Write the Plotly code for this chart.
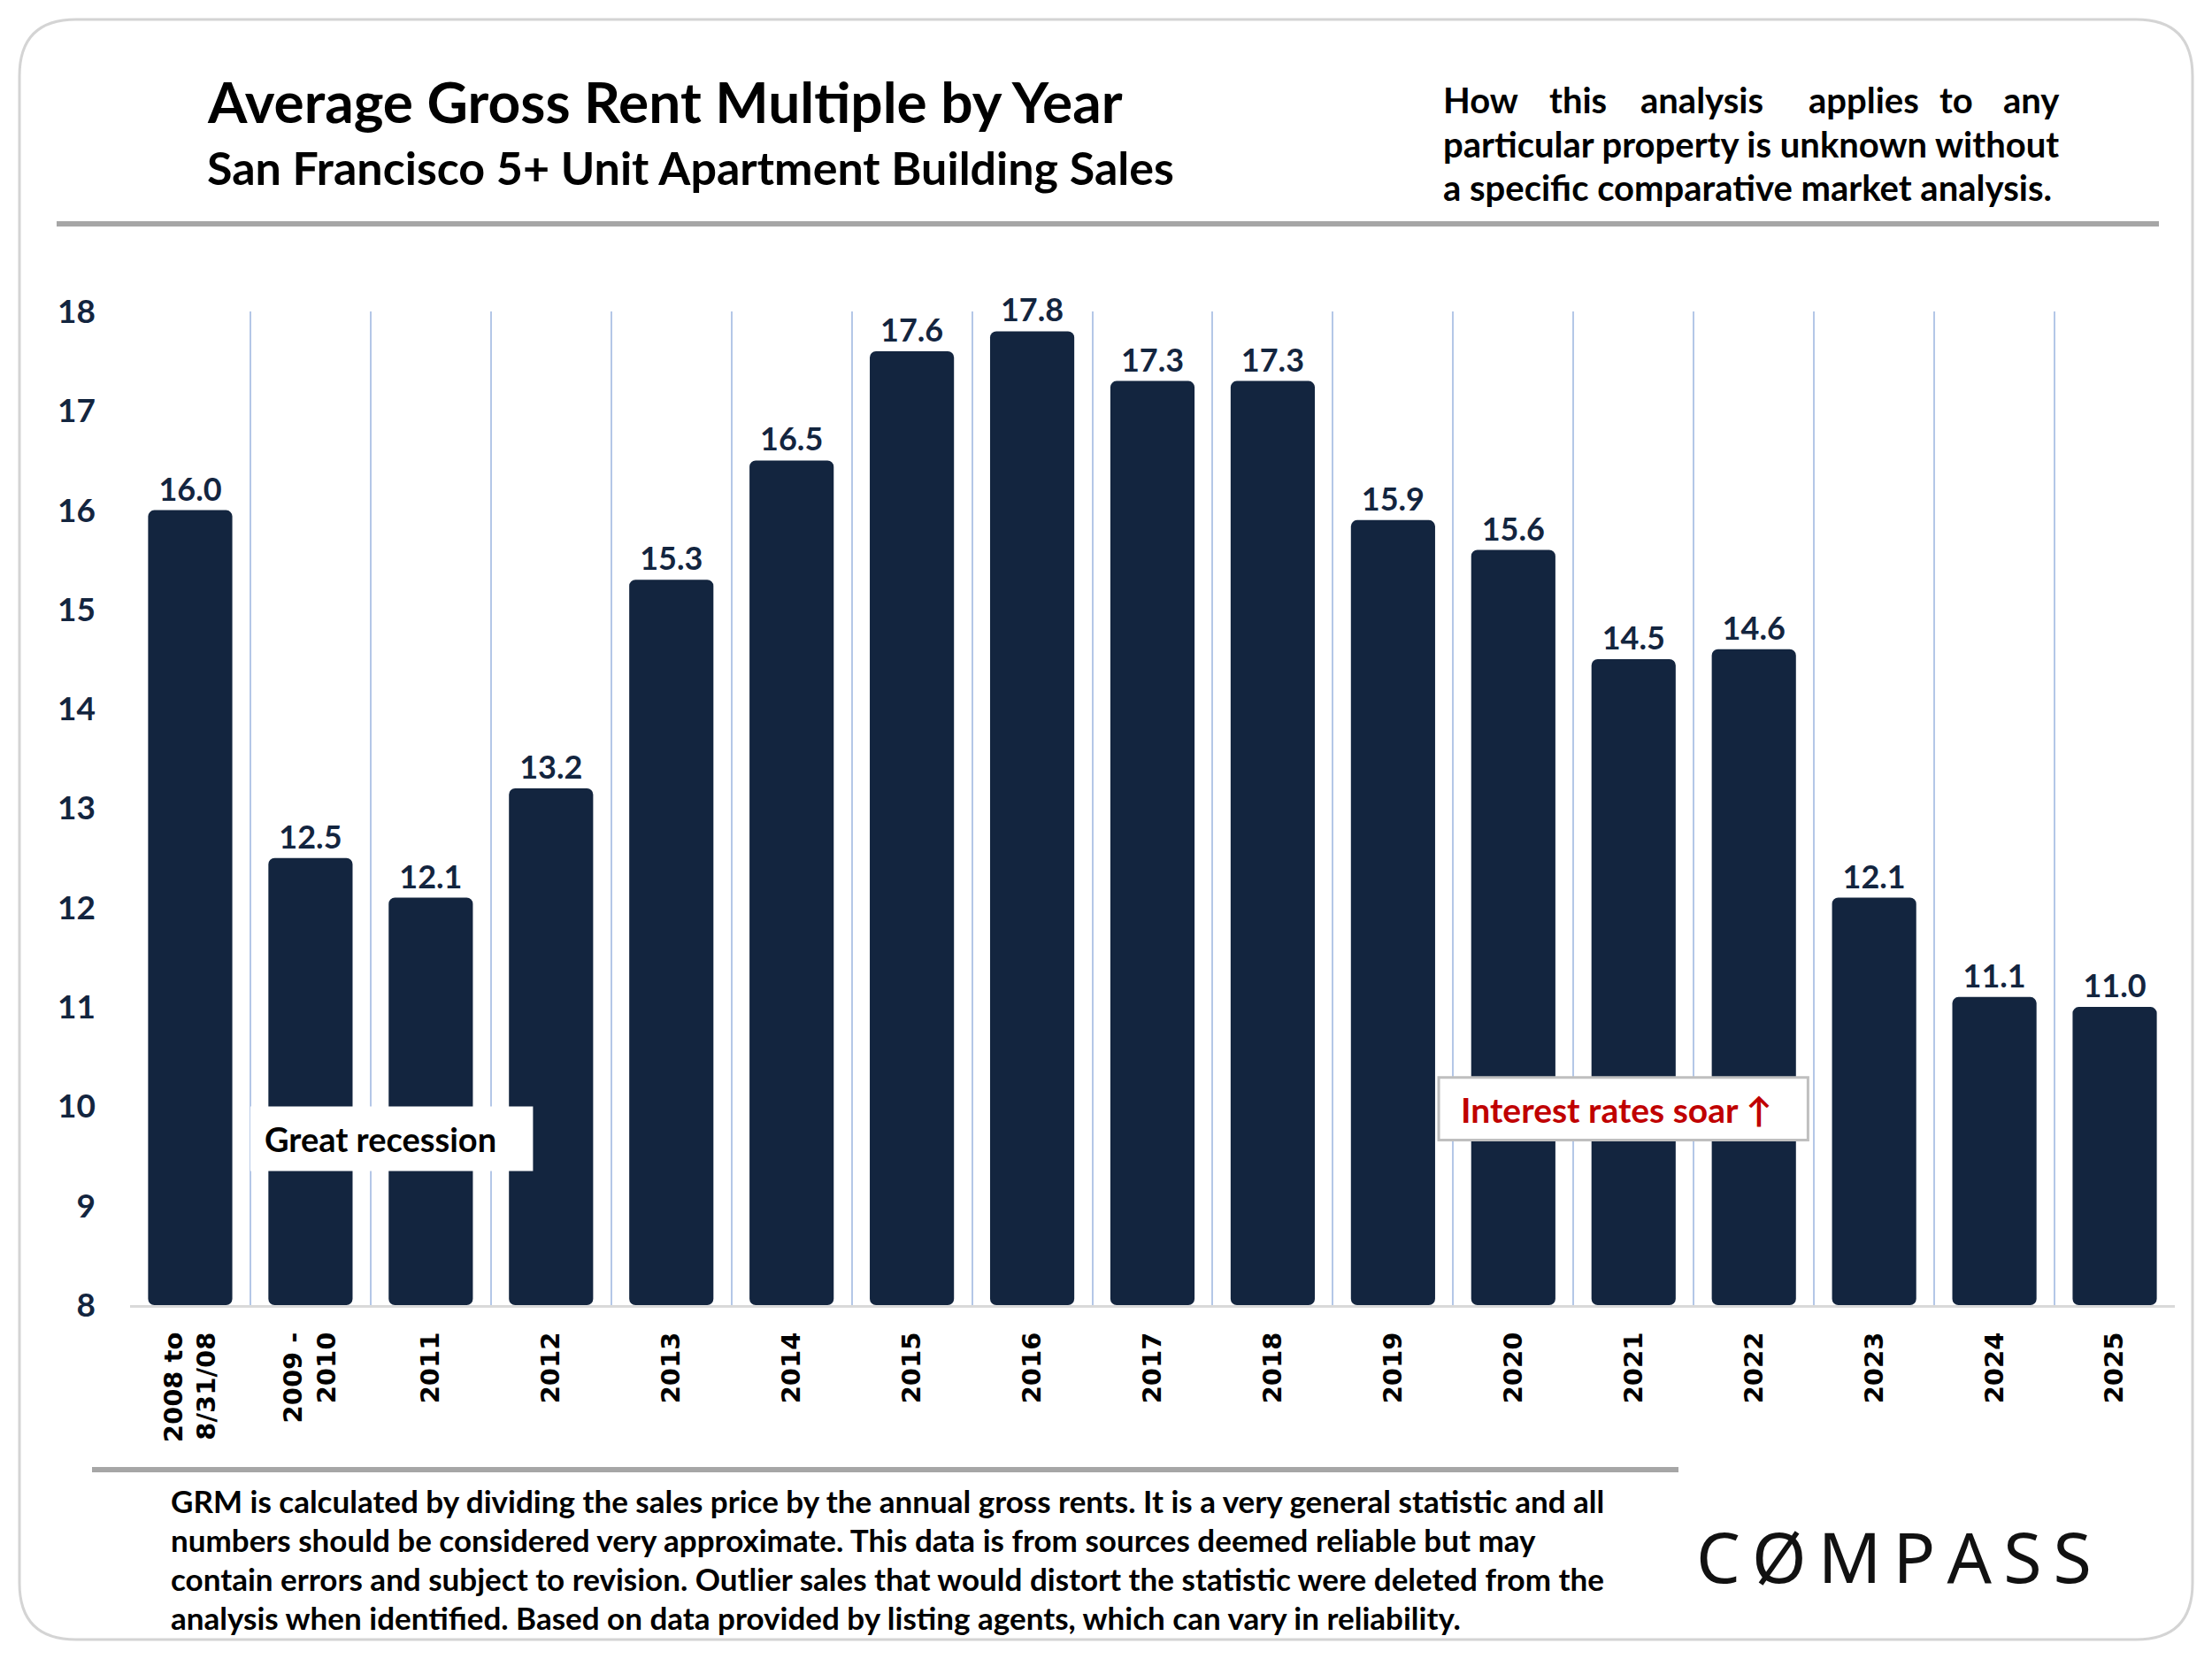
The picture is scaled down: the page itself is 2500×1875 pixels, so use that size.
import plotly.graph_objects as go

# ---------------- data ----------------
categories = ["2008 to<br>8/31/08", "2009 -<br>2010", "2011", "2012", "2013", "2014",
              "2015", "2016", "2017", "2018", "2019", "2020", "2021", "2022",
              "2023", "2024", "2025"]
grm_values = [16.0, 12.5, 12.1, 13.2, 15.3, 16.5, 17.6, 17.8, 17.3, 17.3,
              15.9, 15.6, 14.5, 14.6, 12.1, 11.1, 11.0]
y_tick_values = [8, 9, 10, 11, 12, 13, 14, 15, 16, 17, 18]
axis_floor = 8

title_text = "Average Gross Rent Multiple by Year"
subtitle_text = "San Francisco 5+ Unit Apartment Building Sales"
note_line1_words = ["How", "this", "analysis", "applies", "to", "any"]
note_lines = ["particular property is unknown without",
              "a specific comparative market analysis."]
footer_lines = [
    "GRM is calculated by dividing the sales price by the annual gross rents. It is a very general statistic and all",
    "numbers should be considered very approximate. This data is from sources deemed reliable but may",
    "contain errors and subject to revision. Outlier sales that would distort the statistic were deleted from the",
    "analysis when identified. Based on data provided by listing agents, which can vary in reliability.",
]
note_recession = "Great recession"
note_rates = "Interest rates soar ↑"

# ---------------- layout geometry (pixels) ----------------
FW, FH = 2500, 1875
L, R, T, B = 147, 2458, 352, 1475
W, H = R - L, B - T


def X(px):
    return (px - L) / W


def Y(py):
    return (B - py) / H


NAVY = "#13253F"
FONT = "Lato"

fig = go.Figure()
fig.add_trace(go.Bar(
    x=categories,
    y=[v - axis_floor for v in grm_values],
    base=axis_floor,
    text=[f"{v:.1f}" for v in grm_values],
    textposition="outside",
    textfont=dict(family=FONT, size=36, color=NAVY, weight="bold"),
    marker=dict(color=NAVY, line=dict(width=0)),
    cliponaxis=False,
    hoverinfo="skip",
))

shapes = []
annotations = []

# outer rounded border
r = 64
x0, y0, x1, y1 = 22, 22, 2478, 1853
path = (f"M {X(x0 + r)},{Y(y0)} L {X(x1 - r)},{Y(y0)} Q {X(x1)},{Y(y0)} {X(x1)},{Y(y0 + r)} "
        f"L {X(x1)},{Y(y1 - r)} Q {X(x1)},{Y(y1)} {X(x1 - r)},{Y(y1)} "
        f"L {X(x0 + r)},{Y(y1)} Q {X(x0)},{Y(y1)} {X(x0)},{Y(y1 - r)} "
        f"L {X(x0)},{Y(y0 + r)} Q {X(x0)},{Y(y0)} {X(x0 + r)},{Y(y0)} Z")
shapes.append(dict(type="path", path=path, xref="paper", yref="paper",
                   line=dict(color="#D4D4D4", width=3), fillcolor="rgba(0,0,0,0)",
                   layer="below"))

# header and footer rules
shapes.append(dict(type="line", xref="paper", yref="paper",
                   x0=X(64), x1=X(2440), y0=Y(253), y1=Y(253),
                   line=dict(color="#A6A6A6", width=6)))
shapes.append(dict(type="line", xref="paper", yref="paper",
                   x0=X(104), x1=X(1897), y0=Y(1661), y1=Y(1661),
                   line=dict(color="#A6A6A6", width=6)))

# annotation boxes (data coordinates)
shapes.append(dict(type="rect", xref="x", yref="y", x0=0.5, x1=2.85, y0=9.35, y1=10.0,
                   fillcolor="white", line=dict(width=0), layer="above"))
shapes.append(dict(type="rect", xref="x", yref="y", x0=10.38, x1=13.45, y0=9.66, y1=10.29,
                   fillcolor="white", line=dict(color="#BFBFBF", width=3), layer="above"))

annotations.append(dict(text=f"<b>{note_recession}</b>", xref="x", yref="y",
                        x=0.6, y=9.67, xanchor="left", yanchor="middle", showarrow=False,
                        font=dict(family=FONT, size=38, color="black")))
annotations.append(dict(text=f"<b>{note_rates}</b>", xref="x", yref="y",
                        x=10.55, y=9.97, xanchor="left", yanchor="middle", showarrow=False,
                        font=dict(family=FONT, size=39, color="#C00000")))

# titles
annotations.append(dict(text=f"<b>{title_text}</b>", xref="paper", yref="paper",
                        x=X(232), y=Y(115), xanchor="left", yanchor="middle", showarrow=False,
                        font=dict(family=FONT, size=64, color="black")))
annotations.append(dict(text=f"<b>{subtitle_text}</b>", xref="paper", yref="paper",
                        x=X(232), y=Y(189), xanchor="left", yanchor="middle", showarrow=False,
                        font=dict(family=FONT, size=52, color="black")))

# right-hand note (first line justified word by word)
word_x = [1629, 1749, 1852, 2042, 2190, 2262]
for wx, word in zip(word_x, note_line1_words):
    annotations.append(dict(text=f"<b>{word}</b>", xref="paper", yref="paper",
                            x=X(wx), y=Y(113), xanchor="left", yanchor="middle",
                            showarrow=False, font=dict(family=FONT, size=40, color="black")))
for ly, line in zip([163, 212], note_lines):
    annotations.append(dict(text=f"<b>{line}</b>", xref="paper", yref="paper",
                            x=X(1629), y=Y(ly), xanchor="left", yanchor="middle",
                            showarrow=False, font=dict(family=FONT, size=40, color="black")))

# footer text
for ly, line in zip([1696, 1740, 1784, 1828], footer_lines):
    annotations.append(dict(text=f"<b>{line}</b>", xref="paper", yref="paper",
                            x=X(191), y=Y(ly), xanchor="left", yanchor="middle",
                            showarrow=False, font=dict(family=FONT, size=35, color="black")))

# logo text
annotations.append(dict(text="C\u2009Ø\u2009M\u2009P\u2009A\u2009S\u2009S", xref="paper", yref="paper",
                        x=X(2140), y=Y(1758), xanchor="center", yanchor="middle",
                        showarrow=False, font=dict(family="Noto Sans", size=79, color="#111111")))

fig.update_layout(
    width=FW, height=FH,
    margin=dict(l=L, r=FW - R, t=T, b=FH - B, pad=0),
    paper_bgcolor="white", plot_bgcolor="white",
    showlegend=False,
    bargap=0.30,
    barcornerradius=7,
    shapes=shapes,
    annotations=annotations,
    xaxis=dict(
        type="category",
        tickson="boundaries",
        showgrid=True, gridcolor="#B4C7E7", gridwidth=2,
        showline=True, linecolor="#D9D9D9", linewidth=3,
        ticks="", tickangle=-90,
        tickfont=dict(family="DejaVu Sans", size=29, color="black", weight="bold"),
        ticklabelstandoff=16,
        range=[-0.5, len(categories) - 0.5],
        fixedrange=True,
    ),
    yaxis=dict(
        range=[y_tick_values[0], y_tick_values[-1]],
        tickmode="array", tickvals=y_tick_values,
        ticktext=[f"<b>{v}</b>" for v in y_tick_values],
        showgrid=False, zeroline=False, showline=False, ticks="",
        tickfont=dict(family=FONT, size=37, color=NAVY),
        ticklabelstandoff=38,
        fixedrange=True,
    ),
)

fig.write_html("out.html", config={"displayModeBar": False},
               post_script="document.body.style.margin='0';")
